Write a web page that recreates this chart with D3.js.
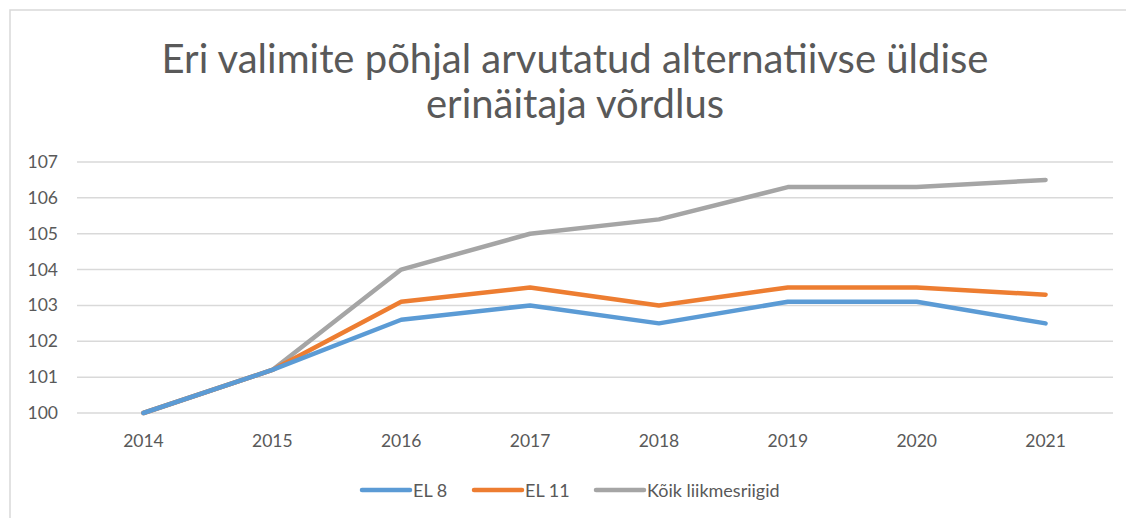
<!DOCTYPE html>
<html>
<head>
<meta charset="utf-8">
<script src="https://cdn.jsdelivr.net/npm/d3@7"></script>
<style>
  body { margin: 0; background: #fff; }
  text { font-family: Lato, "Open Sans", sans-serif; fill: #595959; }
</style>
</head>
<body>
<svg id="chart" width="1126" height="518"></svg>
<script>
var years = ["2014", "2015", "2016", "2017", "2018", "2019", "2020", "2021"];
var el8 = [100, 101.2, 102.6, 103.0, 102.5, 103.1, 103.1, 102.5];
var el11 = [100, 101.2, 103.1, 103.5, 103.0, 103.5, 103.5, 103.3];
var koik = [100, 101.2, 104.0, 105.0, 105.4, 106.3, 106.3, 106.5];
var seriesNames = ["EL 8", "EL 11", "Kõik liikmesriigid"];
var yTicks = [100, 101, 102, 103, 104, 105, 106, 107];
var titleLines = ["Eri valimite põhjal arvutatud alternatiivse üldise", "erinäitaja võrdlus"];

var colors = ["#5b9bd5", "#ed7d31", "#a5a5a5"];
var series = [el8, el11, koik];

var svg = d3.select('#chart');

// chart frame
svg.append('rect')
	.attr("x", 10)
	.attr("y", 10)
	.attr("width", 1126)
	.attr("height", 518)
	.style("fill", "#fff")
	.style("stroke", "#d9d9d9")
	.style("stroke-width", 1.5);

// title
svg.selectAll('text.title')
	.data(titleLines)
	.enter().append('text')
	.attr("class", "title")
	.attr("x", 575)
	.attr("y", function(d, i){ return 73 + i * 45; })
	.attr("text-anchor", "middle")
	.style("font-size", "40px")
	.text(function(d){ return d; });

var x = d3.scaleBand().domain(years).range([79, 1110]);
var y = d3.scaleLinear().domain([100, 107]).range([413, 162]);

// gridlines
svg.selectAll('line.grid')
	.data(yTicks)
	.enter().append('line')
	.attr("class", "grid")
	.attr("x1", 77)
	.attr("x2", 1113)
	.attr("y1", function(d){ return y(d); })
	.attr("y2", function(d){ return y(d); })
	.style("stroke", "#d9d9d9")
	.style("stroke-width", 1.5);

// y labels
svg.selectAll('text.ylab')
	.data(yTicks)
	.enter().append('text')
	.attr("class", "ylab")
	.attr("x", 58)
	.attr("y", function(d){ return y(d) + 6; })
	.attr("text-anchor", "end")
	.style("font-size", "17.5px")
	.text(function(d){ return d; });

// x labels
svg.selectAll('text.xlab')
	.data(years)
	.enter().append('text')
	.attr("class", "xlab")
	.attr("x", function(d){ return x(d) + x.bandwidth() / 2; })
	.attr("y", 447)
	.attr("text-anchor", "middle")
	.style("font-size", "17.5px")
	.text(function(d){ return d; });

var line = d3.line()
	.x(function(d, i){ return x(years[i]) + x.bandwidth() / 2; })
	.y(function(d){ return y(d); });

for(var k = series.length - 1; k >= 0; k--){
	svg.append('path')
		.attr("d", line(series[k]))
		.style("fill", "none")
		.style("stroke", colors[k])
		.style("stroke-width", 4.5)
		.style("stroke-linecap", "round")
		.style("stroke-linejoin", "round");
}

// legend
var legX = [362, 474, 596];
for(var j = 0; j < seriesNames.length; j++){
	svg.append('line')
		.attr("x1", legX[j])
		.attr("x2", legX[j] + 48)
		.attr("y1", 490)
		.attr("y2", 490)
		.style("stroke", colors[j])
		.style("stroke-width", 4.5)
		.style("stroke-linecap", "round");
	svg.append('text')
		.attr("x", legX[j] + 51)
		.attr("y", 496.5)
		.style("font-size", "18px")
		.text(seriesNames[j]);
}
</script>
</body>
</html>
